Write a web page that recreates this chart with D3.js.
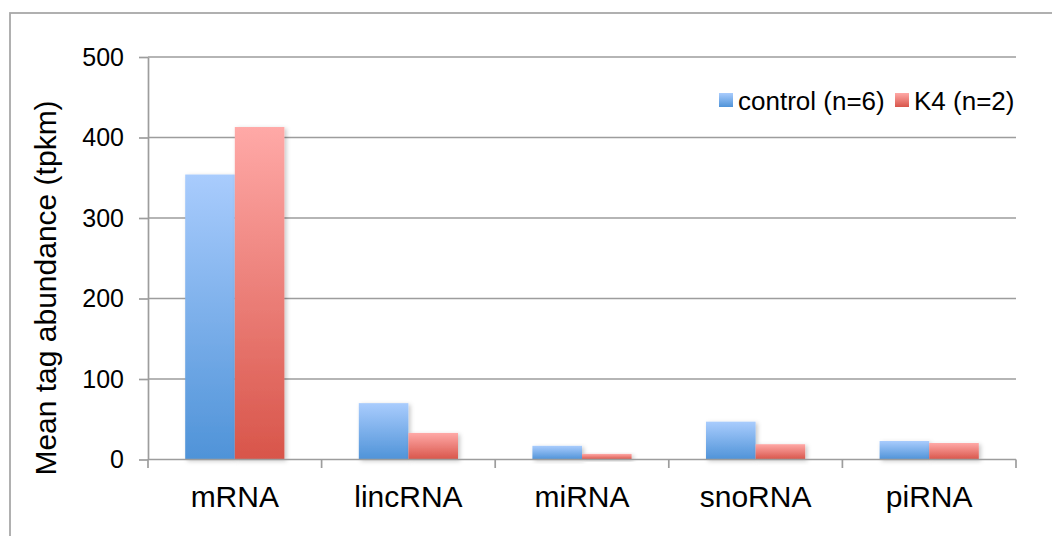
<!DOCTYPE html>
<html>
<head>
<meta charset="utf-8">
<script src="https://cdn.jsdelivr.net/npm/d3@7"></script>
<style>
  html, body { margin: 0; padding: 0; background: #fff; }
  svg { display: block; font-family: "Liberation Sans", Arial, Helvetica, sans-serif; }
</style>
</head>
<body>
<svg id="chart" width="1052" height="536"></svg>
<script>
// Mean tag abundance per RNA class
const categories = ["mRNA", "lincRNA", "miRNA", "snoRNA", "piRNA"];
const seriesNames = ["control (n=6)", "K4 (n=2)"];
const controlValues = [354, 70, 17, 47, 23];
const k4Values = [413, 33, 7, 19, 20.5];
const yTicks = [0, 100, 200, 300, 400, 500];

const svg = d3.select("#chart");
const W = 1052, H = 536;
const margin = { left: 148, right: W - 1016, top: 57, bottom: H - 459.5 };

const x0 = d3.scaleBand().domain(categories).range([margin.left, W - margin.right]).paddingInner(0).paddingOuter(0);
const y = d3.scaleLinear().domain([0, 500]).range([H - margin.bottom, margin.top]);
// gap width 150%: two bars + 1.5 bar widths of gap per category
const barW = x0.bandwidth() / 3.5;
const x1 = d3.scaleBand().domain([0, 1]).range([0, barW * 2]);

const defs = svg.append("defs");
const grads = [
  { id: "gBlue", top: "#a9ccfd", bottom: "#4f93d8" },
  { id: "gRed", top: "#ffa9a7", bottom: "#d8554a" }
];
grads.forEach(g => {
  const lg = defs.append("linearGradient").attr("id", g.id)
    .attr("x1", 0).attr("y1", 0).attr("x2", 0).attr("y2", 1);
  lg.append("stop").attr("offset", "0%").attr("stop-color", g.top);
  lg.append("stop").attr("offset", "100%").attr("stop-color", g.bottom);
});
const shadow = defs.append("filter").attr("id", "shadow")
  .attr("x", "-20%").attr("y", "-20%").attr("width", "150%").attr("height", "150%");
shadow.append("feDropShadow").attr("dx", 2).attr("dy", 1.5).attr("stdDeviation", 2)
  .attr("flood-color", "#000").attr("flood-opacity", 0.22);

// outer frame
svg.append("rect").attr("x", 10).attr("y", 13).attr("width", W + 20).attr("height", H + 20)
  .attr("fill", "none").attr("stroke", "#a8a8a8").attr("stroke-width", 1.8);

const axisColor = "#9d9d9d";

// horizontal gridlines
svg.append("g").selectAll("line").data(yTicks.filter(d => d > 0)).join("line")
  .attr("x1", margin.left).attr("x2", W - margin.right)
  .attr("y1", d => y(d)).attr("y2", d => y(d))
  .attr("stroke", axisColor).attr("stroke-width", 1.7);

// bars
const seriesData = [controlValues, k4Values];
const gradIds = ["gBlue", "gRed"];
const barG = svg.append("g");
categories.forEach((c, i) => {
  const left = x0(c) + (x0.bandwidth() - barW * 2) / 2;
  seriesData.forEach((vals, s) => {
    barG.append("rect")
      .attr("x", left + x1(s))
      .attr("y", y(vals[i]))
      .attr("width", x1.bandwidth())
      .attr("height", y(0) - y(vals[i]))
      .attr("fill", `url(#${gradIds[s]})`)
      .attr("filter", "url(#shadow)");
  });
});

// y axis
const yAxis = d3.axisLeft(y).tickValues(yTicks).tickSize(9).tickPadding(15).tickSizeOuter(0);
const gy = svg.append("g").attr("transform", `translate(${margin.left},0)`).call(yAxis);
gy.select(".domain").attr("stroke", axisColor).attr("stroke-width", 1.7);
gy.selectAll(".tick line").attr("stroke", axisColor).attr("stroke-width", 1.7);
gy.selectAll(".tick text").attr("font-size", 25).attr("fill", "#000")
  .attr("font-family", "Liberation Sans, Arial, sans-serif");

// x axis with ticks at category boundaries
const xAxisG = svg.append("g");
xAxisG.append("line").attr("x1", margin.left).attr("x2", W - margin.right)
  .attr("y1", y(0)).attr("y2", y(0)).attr("stroke", axisColor).attr("stroke-width", 1.7);
const boundaries = categories.map(c => x0(c)).concat([x0(categories[categories.length - 1]) + x0.bandwidth()]);
xAxisG.selectAll("line.tk").data(boundaries).join("line").attr("class", "tk")
  .attr("x1", d => d).attr("x2", d => d)
  .attr("y1", y(0)).attr("y2", y(0) + 8.5)
  .attr("stroke", axisColor).attr("stroke-width", 1.7);
xAxisG.selectAll("text").data(categories).join("text")
  .attr("x", d => x0(d) + x0.bandwidth() / 2)
  .attr("y", 507)
  .attr("text-anchor", "middle")
  .attr("font-size", 30)
  .text(d => d);

// y axis title
svg.append("text")
  .attr("transform", "translate(56,288) rotate(-90)")
  .attr("text-anchor", "middle")
  .attr("font-size", 30)
  .text("Mean tag abundance (tpkm)");

// legend
const legend = svg.append("g");
const legendItems = [
  { name: seriesNames[0], grad: "gBlue", x: 719 },
  { name: seriesNames[1], grad: "gRed", x: 895 }
];
legendItems.forEach(it => {
  legend.append("rect").attr("x", it.x).attr("y", 93).attr("width", 14).attr("height", 14)
    .attr("fill", `url(#${it.grad})`);
  legend.append("text").attr("x", it.x + 19).attr("y", 110)
    .attr("font-size", 26).text(it.name);
});
</script>
</body>
</html>
